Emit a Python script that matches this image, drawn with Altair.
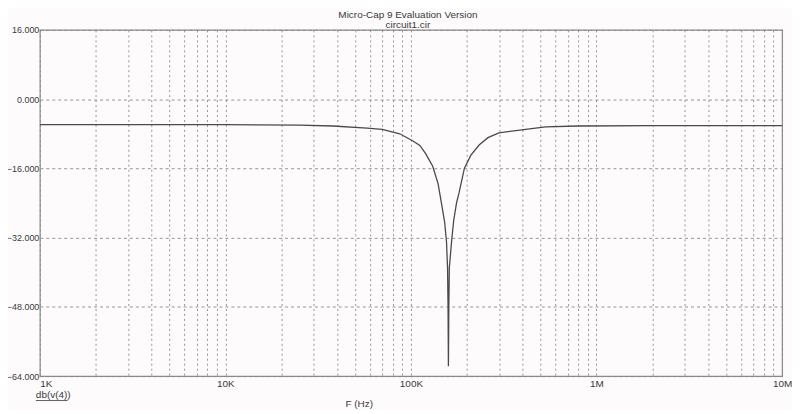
import altair as alt
import pandas as pd

freq_hz = [1000, 10000, 25000, 38000, 58000, 70000, 87000, 102000, 111700, 120000,
           131000, 140000, 146000, 152000, 155500, 157500, 158500, 159200,
           160000, 161000, 165500, 170000, 176000, 182000, 194000, 210000, 233000,
           260000, 298000, 396000, 531000, 796000, 2000000, 10000000]
gain_db = [-5.9, -5.9, -6.0, -6.2, -6.7, -7.0, -8.0, -9.6, -10.7, -12.6,
           -15.5, -19.5, -24.0, -28.5, -33.0, -39.0, -48.0, -61.7,
           -48.0, -39.0, -33.0, -28.0, -24.0, -21.5, -16.0, -13.0, -10.6,
           -8.9, -7.8, -7.1, -6.4, -6.2, -6.1, -6.1]

y_ticks = [-64, -48, -32, -16, 0, 16]
x_grid = [m * 10 ** k for k in range(3, 7) for m in range(1, 10)] + [10000000]
x_labels = {1000: "1K", 10000: "10K", 100000: "100K", 1000000: "1M", 10000000: "10M"}

title_main = "Micro-Cap 9 Evaluation Version"
title_sub = "circuit1.cir"
trace_label = "db(v(4))"
x_title = "F (Hz)"

df = pd.DataFrame({"f": freq_hz, "db": gain_db})

label_expr = " : ".join(
    f"datum.value == {v} ? '{t}'" for v, t in x_labels.items()
) + " : ''"

FONT = "Liberation Sans"
TXT = "#3a3a3a"

line = alt.Chart(df).mark_line(color="#4a4a4a", strokeWidth=1.3, clip=True).encode(
    x=alt.X("f:Q", scale=alt.Scale(type="log", domain=[1000, 10000000], nice=False),
            axis=alt.Axis(values=x_grid, labelExpr=label_expr, title=None,
                          grid=True, gridDash=[2, 3], gridColor="#8a8a8a", gridOpacity=0.9,
                          ticks=False, domain=False, labelOverlap=False,
                          labelAlign=alt.condition("datum.value <= 1000", alt.value("left"), alt.value("center")),
                          labelFont=FONT, labelFontSize=10, labelColor=TXT, labelPadding=2)),
    y=alt.Y("db:Q", scale=alt.Scale(domain=[-64, 16], nice=False, zero=False),
            axis=alt.Axis(values=y_ticks, format=".3f", title=None,
                          grid=True, gridDash=[3, 3], gridColor="#8a8a8a", gridOpacity=0.9,
                          ticks=False, domain=False, labelPadding=1,
                          labelFont=FONT, labelFontSize=9, labelColor=TXT)),
)


def text_layer(txt, x, y, align="center", size=10):
    return alt.Chart(pd.DataFrame({"t": [txt]})).mark_text(
        align=align, baseline="middle", font=FONT, fontSize=size, color=TXT
    ).encode(x=alt.value(x), y=alt.value(y), text="t:N")


t1 = text_layer(title_main, 370, -15)
t2 = text_layer(title_sub, 370, -5)
lab = text_layer(trace_label, -4, 367, align="left")
underline = alt.Chart(pd.DataFrame({"t": [trace_label]})).mark_rule(
    color=TXT, strokeWidth=0.8
).encode(x=alt.value(-4), x2=alt.value(28), y=alt.value(372.5))
xt = text_layer(x_title, 321, 376)

chart = alt.layer(line, t1, t2, lab, underline, xt).properties(
    width=746, height=348,
    autosize=alt.AutoSizeParams(type="none"),
    padding={"left": 32, "top": 21, "right": 10, "bottom": 33},
    background="#fdfbfc",
).configure_view(stroke="#8a8a8a", strokeWidth=1.2)

chart.save("out.html", embed_options={"renderer": "svg", "actions": False})
